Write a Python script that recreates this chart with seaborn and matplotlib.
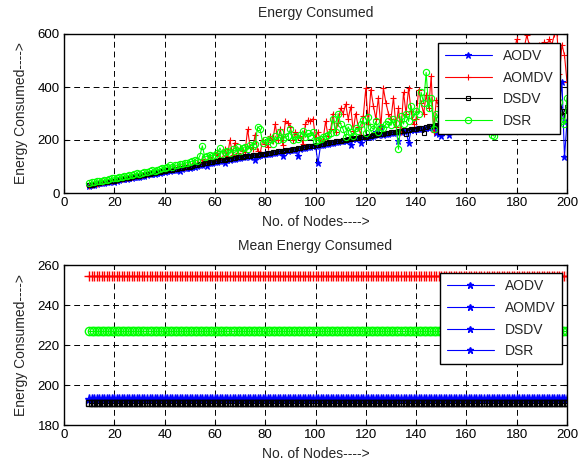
import matplotlib
matplotlib.use('Agg')
import matplotlib.pyplot as plt
import seaborn as sns
from matplotlib.lines import Line2D

## number of nodes (x axis)
nodes = list(range(10, 201))

## energy consumed per protocol (x = 10 ... 200)
aodv = [27, 29, 31, 33, 36, 37, 38, 41, 42, 44,
        43, 46, 48, 51, 52, 53, 56, 57, 59, 62,
        62, 64, 66, 67, 70, 71, 73, 75, 76, 78,
        80, 82, 83, 85, 86, 88, 82, 91, 93, 95,
        96, 98, 100, 102, 105, 106, 108, 103, 112, 114,
        116, 118, 119, 122, 112, 124, 126, 128, 130, 131,
        132, 134, 135, 142, 137, 139, 126, 141, 143, 145,
        146, 147, 149, 150, 152, 153, 155, 140, 158, 159,
        161, 162, 164, 138, 167, 169, 171, 172, 174, 176,
        178, 112, 180, 183, 185, 186, 188, 190, 192, 193,
        195, 196, 198, 200, 180, 203, 204, 206, 190, 209,
        210, 212, 213, 215, 230, 218, 250, 220, 222, 224,
        226, 227, 229, 195, 232, 233, 234, 190, 237, 238,
        240, 241, 243, 244, 246, 247, 249, 250, 228, 222,
        215, 252, 254, 218, 257, 258, 260, 262, 263, 265,
        266, 268, 270, 271, 273, 274, 276, 277, 279, 280,
        282, 283, 285, 286, 288, 289, 291, 292, 294, 295,
        297, 298, 300, 301, 303, 304, 305, 307, 308, 309,
        311, 312, 313, 314, 316, 317, 318, 320, 420, 135,
        270]

aomdv = [28, 30, 33, 35, 37, 40, 41, 44, 45, 46,
         48, 50, 52, 54, 56, 58, 59, 61, 63, 66,
         67, 69, 70, 73, 74, 76, 78, 80, 82, 84,
         86, 88, 89, 91, 93, 95, 97, 99, 100, 102,
         104, 106, 109, 112, 114, 130, 118, 121, 135, 124,
         126, 150, 132, 130, 165, 140, 200, 145, 190, 150,
         170, 160, 155, 240, 175, 165, 220, 160, 150, 200,
         185, 175, 215, 195, 260, 200, 240, 180, 270, 265,
         250, 200, 230, 210, 215, 185, 260, 275, 270, 280,
         210, 230, 195, 200, 270, 215, 240, 300, 230, 265,
         320, 300, 335, 280, 325, 235, 300, 250, 220, 290,
         395, 260, 390, 330, 280, 360, 250, 395, 340, 300,
         280, 360, 250, 320, 230, 380, 300, 395, 310, 260,
         280, 390, 340, 300, 370, 320, 440, 230, 350, 330,
         340, 360, 380, 350, 370, 390, 380, 400, 410, 420,
         400, 430, 420, 440, 410, 450, 430, 460, 440, 470,
         460, 480, 470, 490, 500, 480, 510, 500, 520, 530,
         580, 540, 520, 550, 595, 560, 540, 550, 530, 560,
         550, 570, 560, 580, 560, 600, 605, 450, 560, 520,
         420]

dsdv = [30, 32, 35, 37, 38, 40, 42, 43, 45, 47,
        45, 49, 52, 53, 55, 57, 58, 60, 63, 64,
        66, 67, 69, 71, 72, 75, 76, 78, 80, 82,
        84, 85, 87, 88, 90, 92, 93, 95, 97, 98,
        100, 102, 104, 106, 108, 110, 112, 114, 116, 118,
        120, 121, 123, 125, 126, 128, 130, 131, 133, 135,
        136, 137, 139, 140, 141, 143, 144, 145, 147, 148,
        149, 151, 152, 154, 155, 157, 158, 160, 161, 163,
        164, 166, 167, 169, 171, 172, 174, 176, 177, 179,
        181, 182, 184, 186, 188, 189, 191, 193, 195, 196,
        198, 199, 201, 203, 204, 206, 207, 209, 210, 212,
        213, 215, 216, 218, 219, 221, 223, 224, 226, 227,
        229, 230, 232, 233, 235, 236, 224, 239, 240, 242,
        243, 245, 246, 228, 249, 251, 252, 254, 256, 257,
        259, 260, 262, 263, 265, 266, 268, 269, 271, 272,
        274, 275, 277, 278, 280, 281, 283, 284, 286, 287,
        289, 290, 291, 293, 294, 295, 297, 298, 299, 301,
        302, 303, 305, 306, 307, 309, 310, 311, 313, 314,
        315, 316, 318, 319, 320, 321, 322, 323, 290, 310,
        325]

dsr = [38, 40, 42, 44, 46, 45, 48, 50, 52, 55,
       58, 56, 60, 62, 64, 63, 67, 68, 70, 74,
       72, 75, 78, 80, 82, 85, 83, 88, 90, 95,
       96, 98, 105, 100, 106, 104, 110, 108, 112, 115,
       118, 120, 125, 122, 140, 178, 135, 140, 145, 138,
       145, 150, 170, 148, 155, 160, 152, 165, 158, 175,
       160, 168, 175, 165, 180, 178, 185, 250, 240, 190,
       200, 195, 205, 185, 215, 200, 230, 205, 210, 215,
       240, 200, 215, 205, 220, 235, 210, 225, 215, 230,
       195, 200, 205, 210, 215, 220, 225, 280, 230, 300,
       260, 240, 210, 250, 230, 215, 245, 235, 260, 275,
       225, 285, 250, 240, 270, 230, 250, 245, 260, 270,
       255, 280, 265, 165, 290, 260, 300, 270, 330, 285,
       310, 300, 380, 340, 455, 320, 360, 240, 300, 280,
       300, 320, 310, 330, 340, 320, 350, 330, 345, 360,
       340, 350, 330, 360, 370, 350, 340, 360, 345, 350,
       220, 215, 360, 350, 340, 370, 360, 350, 380, 360,
       370, 360, 380, 350, 370, 390, 360, 380, 370, 390,
       380, 370, 390, 380, 360, 400, 380, 345, 270, 260,
       360]

## mean energy consumed (lower panel)
mean_aodv = 193
mean_aomdv = 254.5
mean_dsdv = 191
mean_dsr = 227

protocols = ['AODV', 'AOMDV', 'DSDV', 'DSR']
series = [aodv, aomdv, dsdv, dsr]
means = [mean_aodv, mean_aomdv, mean_dsdv, mean_dsr]

# matlab-ish look
colors = {'AODV': '#0000ff', 'AOMDV': '#ff0000', 'DSDV': '#000000', 'DSR': '#00ff00'}
marks = {'AODV': '*', 'AOMDV': '+', 'DSDV': 's', 'DSR': 'o'}
fills = {'AODV': '#0000ff', 'AOMDV': '#ff0000', 'DSDV': 'none', 'DSR': 'none'}
size_top = {'AODV': 5, 'AOMDV': 5, 'DSDV': 3.5, 'DSR': 4.5}
size_bot = {'AODV': 6.5, 'AOMDV': 7, 'DSDV': 5, 'DSR': 6}

sns.set_style('white')
plt.rcParams['font.family'] = ['Liberation Sans', 'DejaVu Sans']
plt.rcParams['axes.edgecolor'] = 'black'
plt.rcParams['axes.linewidth'] = 1.0
plt.rcParams['xtick.direction'] = 'in'
plt.rcParams['ytick.direction'] = 'in'

fig = plt.figure(figsize=(5.87, 4.67), dpi=100)
ax1 = fig.add_axes([64/587, 1-193/467, 503/587, 159/467])
ax2 = fig.add_axes([64/587, 1-425/467, 503/587, 160/467])

#%% top : energy consumed
for name, vals in zip(protocols, series):
    sns.lineplot(x=nodes, y=vals, ax=ax1, label=name, linewidth=0.8,
                 color=colors[name], marker=marks[name], markersize=size_top[name],
                 markerfacecolor=fills[name], markeredgecolor=colors[name],
                 markeredgewidth=0.8)

#%% bottom : mean energy consumed
for name, m in zip(protocols, means):
    sns.lineplot(x=nodes, y=[m]*len(nodes), ax=ax2, linewidth=0.8,
                 color=colors[name], marker=marks[name], markersize=size_bot[name],
                 markerfacecolor=fills[name], markeredgecolor=colors[name],
                 markeredgewidth=1.0)

for ax in (ax1, ax2):
    ax.set_xlim(0, 200)
    ax.set_xticks(range(0, 201, 20))
    ax.grid(True, color='black', linestyle=(0, (6, 4)), linewidth=0.7)
    ax.set_axisbelow(True)
    ax.tick_params(axis='both', labelsize=9.5, length=3, width=0.8, pad=3,
                   bottom=True, left=True, top=True, right=True, colors='black')
    ax.set_xlabel('No. of Nodes---->', fontsize=10, labelpad=4)
    ax.set_ylabel('Energy Consumed---->', fontsize=10, labelpad=7)
    for sp in ax.spines.values():
        sp.set_visible(True)
        sp.set_color('black')

ax1.set_ylim(0, 600)
ax1.set_yticks(range(0, 601, 200))
ax1.set_title('Energy Consumed', fontsize=10, pad=12)
leg1 = ax1.legend(loc='upper right', bbox_to_anchor=(0.986, 0.945), fontsize=10,
                  handlelength=3.4, frameon=True, fancybox=False, framealpha=1,
                  edgecolor='black', borderpad=0.45, labelspacing=0.55,
                  borderaxespad=0)
leg1.get_frame().set_linewidth(1.0)

ax2.set_ylim(180, 260)
ax2.set_yticks(range(180, 261, 20))
ax2.set_title('Mean Energy Consumed', fontsize=10, pad=11)
# the original legend shows every entry with the same blue style
blue_handles = [Line2D([], [], color='#0000ff', marker='*', markersize=5, linewidth=0.8)
                for _ in protocols]
leg2 = ax2.legend(blue_handles, protocols, loc='upper right', bbox_to_anchor=(0.99, 0.95),
                  fontsize=10, handlelength=3.4, frameon=True, fancybox=False,
                  framealpha=1, edgecolor='black', borderpad=0.45, labelspacing=0.55,
                  borderaxespad=0)
leg2.get_frame().set_linewidth(1.0)

fig.savefig('out.png', dpi=100)
